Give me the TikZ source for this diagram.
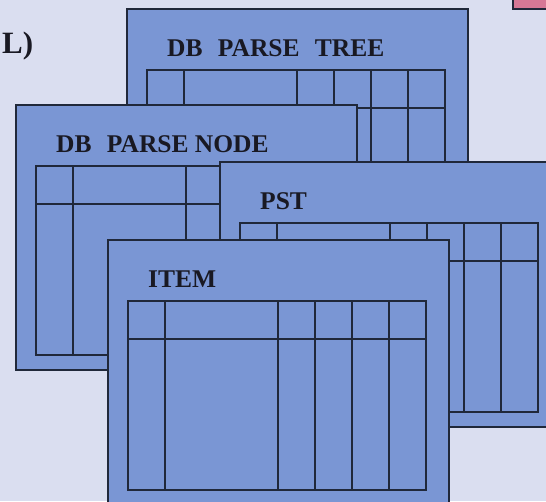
\documentclass[tikz,border=0pt]{standalone}
\usepackage{fontspec}
\setmainfont{Liberation Serif}
\definecolor{bgc}{RGB}{218,222,240}
\definecolor{panelc}{RGB}{122,150,212}
\definecolor{linec}{RGB}{32,40,58}
\definecolor{pinkc}{RGB}{214,120,150}
\definecolor{textc}{RGB}{25,25,35}
\tikzset{
  panelbox/.style={fill=panelc, draw=linec, line width=1.8pt},
  gridline/.style={draw=linec, line width=1.8pt},
  paneltitle/.style={font=\fontsize{25.5}{30}\selectfont\bfseries, text=textc, inner sep=0pt, anchor=base west},
}
\newcommand\dbpanel[4]{%
  \begin{scope}[shift={(#1,#2)}]
    \path[panelbox] (0,0) rectangle (341,265);
    \node[paneltitle] (#3) at (40,47) {#4};
    \draw[gridline] (20,61) rectangle (318,250);
    \draw[gridline] (20,99) -- (318,99);
    \foreach \c in {57,170,207,244,281} \draw[gridline] (\c,61) -- (\c,250);
  \end{scope}}
\begin{document}
\begin{tikzpicture}[x=1pt,y=-1pt]
  \useasboundingbox (0,0) rectangle (546,501);
  \fill[bgc] (0,0) rectangle (546,501);
  \clip (0,0) rectangle (546,501);
  \draw[fill=pinkc, draw=linec, line width=1.5pt] (513,-10) rectangle (570,9);
  \node[font=\fontsize{31}{36}\selectfont\bfseries, text=textc, inner sep=0pt, anchor=base west] (lparen) at (2,53) {L)};
  \dbpanel{127}{9}{tree}{DB\hspace{0.6em}PARSE\hspace{0.6em}TREE}
  \dbpanel{16}{105}{node}{DB\hspace{0.6em}PARSE NODE}
  \dbpanel{220}{162}{pst}{PST}
  \dbpanel{108}{240}{item}{ITEM}
\end{tikzpicture}
\end{document}
